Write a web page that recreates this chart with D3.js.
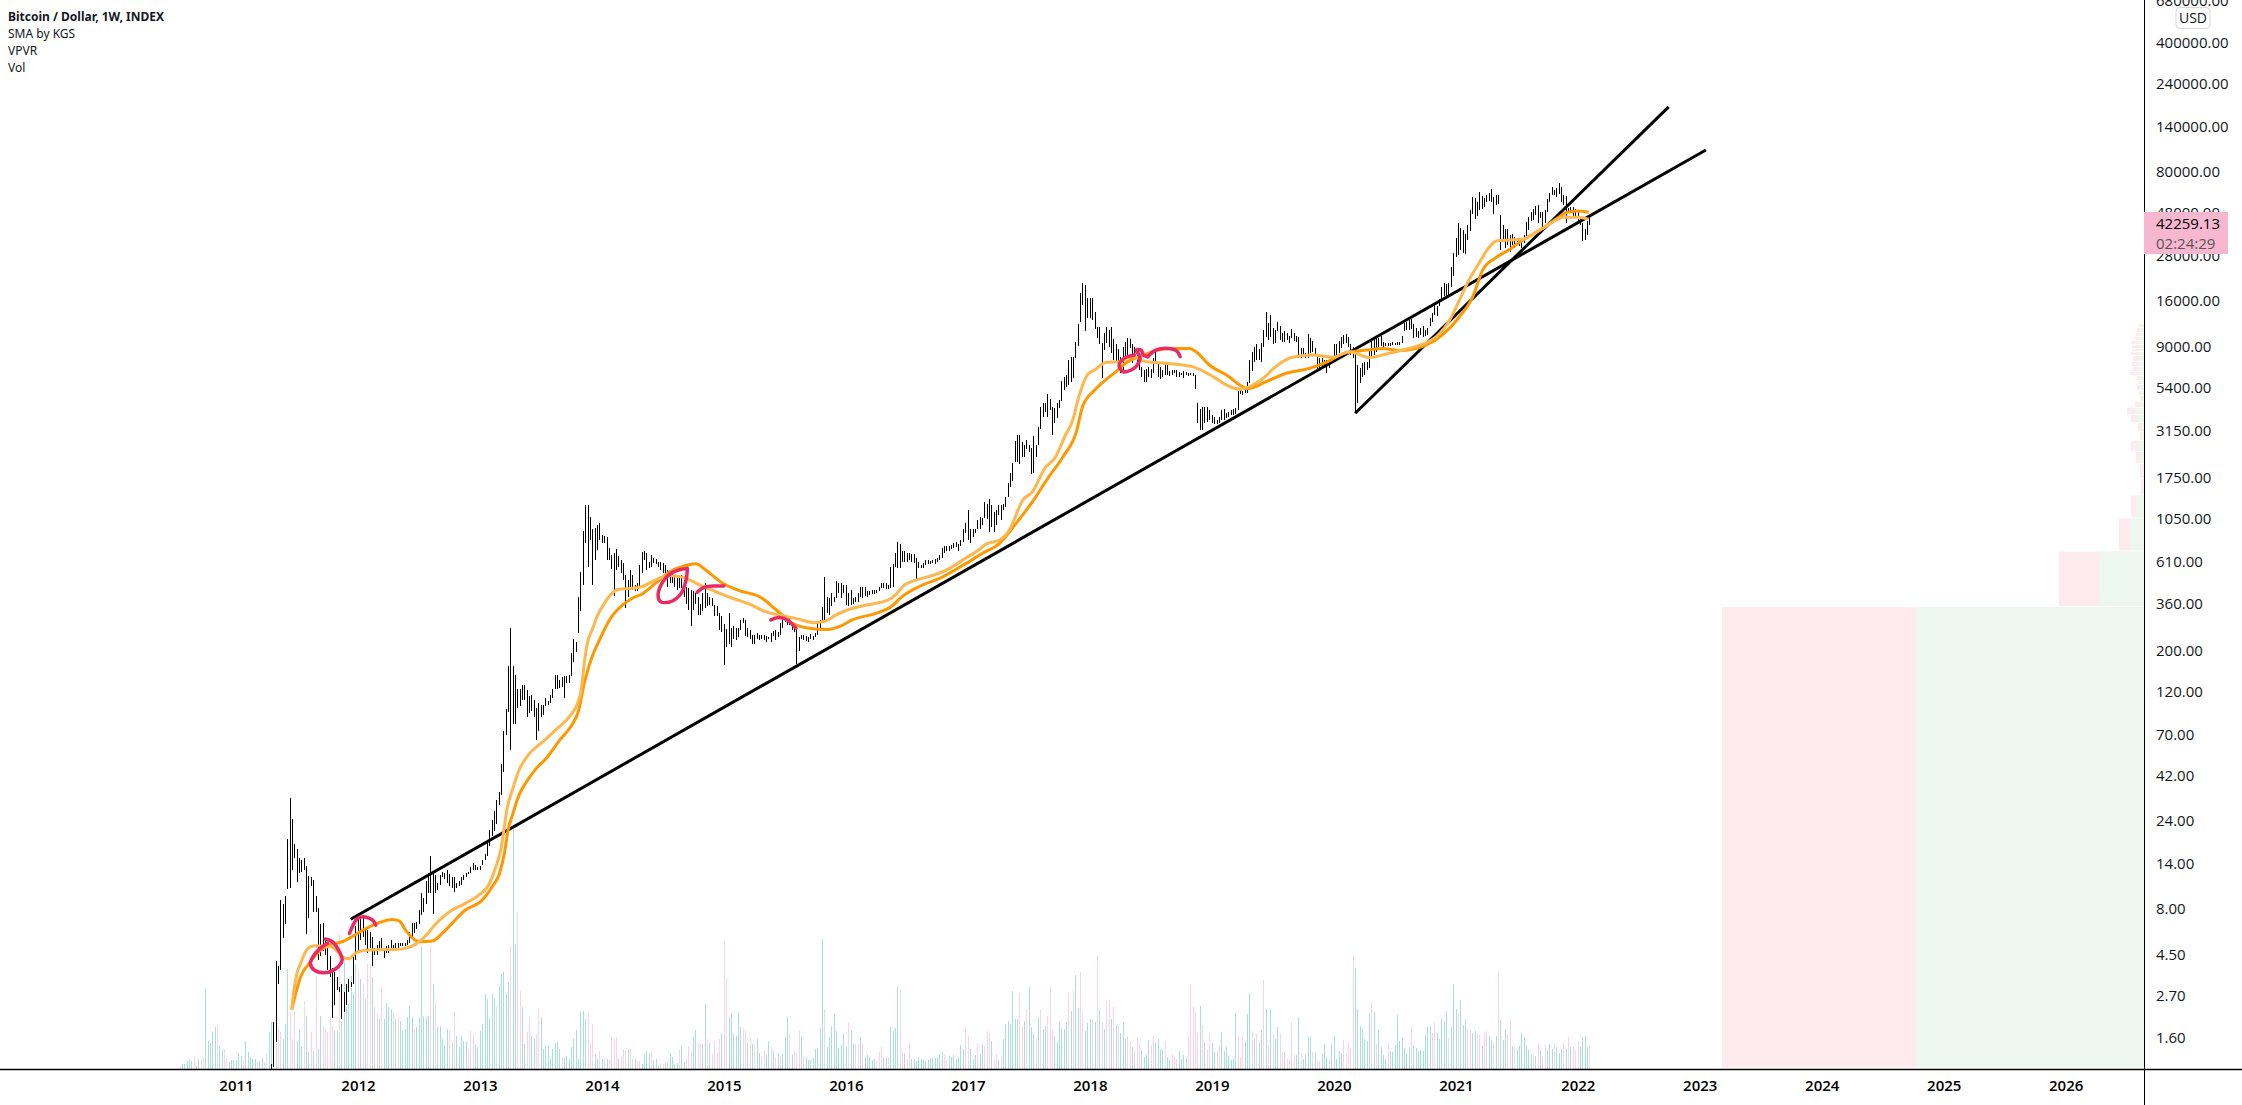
<!doctype html>
<html>
<head>
<meta charset="utf-8">
<title>Bitcoin / Dollar, 1W</title>
<script src="https://d3js.org/d3.v7.min.js"></script>
<style>
  body { margin: 0; background: #fff; }
  svg { display: block; }
  text { font-family: 'Open Sans', sans-serif; fill: #131722; }
  .price-axis text { font-size: 15px; }
  .time-axis text { font-size: 15px; font-weight: 600; fill: #000; }
  .legend { font-family: 'Noto Sans', sans-serif; font-size: 12px; }
</style>
</head>
<body>
<script>
// ---- axis labels
var yearTicks = [2011,2012,2013,2014,2015,2016,2017,2018,2019,2020,2021,2022,2023,2024,2025,2026];
var priceTicks = [680000,400000,240000,140000,80000,48000,28000,16000,9000,5400,3150,1750,1050,610,360,200,120,70,42,24,14,8,4.5,2.7,1.6];
var legendLines = ["Bitcoin / Dollar, 1W, INDEX","SMA by KGS","VPVR","Vol"];

// ---- weekly [low, high], one list per calendar year
var bars2011 = [ // starts mid April
[1.08,1.14],[1.1,1.94],[1.51,4.15],[3.1,3.9],[3.7,8.9],[5.5,8.5],[6.6,9.4],[10.2,19],[10.3,31.7],[13,24.5],
[15,17.9],[11.1,16.9],[12.4,15.1],[12.7,14.7],[12.9,15],[5.8,13.6],[7.1,12],[10.6,11.9],[7.7,11.4],[7.7,9.3],
[4.2,8.1],[4.4,6.6],[4.7,6.7],[4.5,5.4],[3.7,5.1],[3.4,4.4],[2.04,3.8],[2.4,3.6],[2.9,3.4],[2.8,3],
[2,3.1],[2.2,2.8],[2.4,3.1],[2.8,3.3],[3,3.2],[3.1,4.5],[4.2,6.4]];
var bars2012 = [
[4.6,7.4],[5.4,7.2],[5.6,7.4],[5.1,6.2],[4.6,6.1],[4.9,6],[3.9,5.6],[4.5,4.9],[4.5,5.1],[4.8,5.3],
[4.9,5.5],[4.3,4.9],[4.6,5],[4.6,5.1],[4.8,5.4],[4.8,5.1],[4.7,5.2],[4.9,5.2],[5,5.2],[5,5.2],
[5,5.2],[5.1,5.4],[5.2,6],[5.5,6.7],[5.9,6.7],[6.2,6.8],[6.6,7.9],[7.4,9.7],[7.7,9.1],[8.5,11.3],
[9.7,12.4],[9.7,15.4],[7.5,12.4],[9.7,12.2],[10.1,11],[10.7,12.2],[11.9,12.7],[11.5,12.5],[11,13],[10.6,12.3],
[10.3,11.9],[9.8,11.9],[10.4,11],[10.6,11.3],[10.8,11.9],[11.4,12.2],[11.9,12.4],[12.3,12.6],[12.5,13.4],[13,14.2],
[12.9,13.7],[13,13.5]];
var bars2013 = [
[13,13.6],[13.7,14.7],[14.7,15.9],[15.4,18.8],[17.5,21.3],[19.7,24.2],[21,27],[23,31],[29,34.5],[33,49],
[44,74],[70,97],[93,165],[58,266],[80,165],[80,149],[98,125],[101,125],[109,131],[109,131],
[88,123],[92,114],[94,116],[88,109],[66,98],[74,104],[88,102],[90,102],[100,111],[102,107],
[105,116],[111,124],[124,149],[124,149],[126,139],[128,145],[111,147],[134,147],[134,149],[146,194],
[175,232],[198,225],[250,395],[328,540],[458,902],[770,1241],[575,1241],[802,1074],[458,925],[625,935],
[707,968],[802,990]];
var bars2014 = [
[770,854],[770,840],[625,830],[625,722],[560,665],[398,679],[551,712],[575,655],[529,625],[487,600],
[342,517],[395,487],[439,551],[430,517],[421,458],[421,467],[439,587],[529,687],[625,695],[551,679],
[565,612],[575,665],[600,637],[596,631],[575,612],[551,605],[529,600],[487,587],[448,551],[467,529],
[467,540],[445,520],[430,500],[440,510],[439,517],[395,487],[361,448],[335,439],[274,430],[335,421],
[361,412],[314,395],[314,361],[328,412],[342,471],[349,412],[355,395],[349,387],[308,355],[308,349],
[260,321],[255,308]];
var bars2015 = [
[168,280],[211,263],[218,321],[211,266],[232,274],[230,266],[237,266],[260,295],[284,303],[240,295],
[237,266],[232,260],[218,245],[218,245],[232,250],[230,245],[232,245],[230,245],[225,240],[232,237],
[225,250],[240,258],[230,260],[237,255],[245,284],[266,314],[288,314],[278,308],[278,303],[260,289],
[255,274],[170,266],[200,237],[232,245],[230,245],[228,240],[225,238],[232,246],[230,240],[238,250],
[245,284],[260,295],[284,345],[288,507],[321,395],[314,387],[349,412],[370,395],[387,477],[412,471],
[387,467],[412,458]];
var bars2016 = [
[355,458],[349,412],[355,430],[361,387],[370,395],[370,412],[395,448],[387,445],[398,445],[395,425],
[403,425],[408,430],[408,430],[412,430],[421,448],[439,471],[439,467],[435,467],[435,458],[439,575],
[448,596],[575,683],[565,785],[565,765],[612,700],[612,695],[612,679],[625,679],[610,675],[600,670],
[477,637],[565,605],[565,587],[565,600],[587,625],[596,625],[596,620],[600,625],[590,630],[612,637],
[625,665],[637,722],[683,740],[695,745],[700,745],[712,755],[722,775],[735,785],[700,760],[745,800],
[785,915],[880,990]];
var bars2017 = [
[802,1168],[770,925],[830,925],[880,925],[925,1030],[925,1074],[968,1050],[1050,1290],[1040,1250],[885,1340],
[948,1241],[885,1142],[968,1168],[1100,1240],[1030,1240],[1166,1253],[1216,1377],[1377,1629],[1563,1845],[1683,2090],
[2132,2760],[2132,2978],[2075,2978],[2270,2740],[2270,2630],[2500,2800],[2417,2630],[1820,2522],[1845,2940],[2270,2630],
[2630,3304],[3195,4250],[3743,4467],[3990,4467],[3743,4955],[4075,4655],[2978,4250],[3445,4160],[3664,4425],[4160,4613],
[4571,5875],[5226,6180],[5405,6310],[5560,7600],[5800,7925],[6050,7925],[7760,9570],[9090,11940],[12280,17500],[15150,19800],
[10960,19300],[12790,16440]];
var bars2018 = [
[12790,16440],[12500,16440],[11180,13900],[9980,11550],[9300,11550],[6050,9370],[8650,10600],[9370,11500],[8950,11100],[8270,11500],
[7600,9850],[7450,9300],[6620,8700],[6440,7925],[6620,8950],[7600,9570],[8130,9980],[8800,9850],[7300,9300],[7760,8950],
[7300,8270],[6710,7600],[6180,6950],[5800,6700],[5800,6800],[6180,6950],[6050,6800],[6440,7760],[7450,8400],[6180,7400],
[6000,6950],[6180,6700],[6310,7300],[6310,7400],[6240,6620],[6310,6700],[6440,6700],[6180,6700],[6130,6570],[6310,6440],
[6100,6650],[6280,6520],[6200,6500],[6310,6500],[6250,6450],[5270,6340],[3445,4425],[3170,4105],[3150,4250],[3445,4220],
[3515,4200],[3600,4090]];
var bars2019 = [
[3445,3820],[3400,3743],[3420,3590],[3445,3743],[3590,4075],[3590,4105],[3664,3940],[3743,3990],[3820,4075],[3820,4105],
[3850,4150],[4075,5160],[4950,5200],[4900,5160],[5010,5400],[5010,5800],[5680,7600],[6620,8400],[7450,8950],[7600,9300],
[7600,8700],[7400,9400],[9000,11100],[10200,13900],[9770,12030],[10200,13300],[9300,11300],[9370,11100],[10950,12300],[9770,11700],
[9570,10700],[9470,10950],[9770,10650],[9370,10300],[10000,11200],[9700,10600],[9500,10300],[7760,10200],[7760,8850],[7850,8850],
[7760,8350],[7760,10500],[8270,9980],[8400,9700],[8130,8850],[6800,8180],[6750,7760],[6900,7760],[6840,7600],[6480,7600],
[6900,7600],[7300,7760]];
var bars2020 = [
[7600,9300],[8130,9300],[8270,9630],[8850,10200],[9300,10400],[9370,10500],[8900,10200],[8130,9300],[7800,9000],[3950,8180],
[4425,7100],[5730,6900],[6180,7300],[6310,7450],[6710,7450],[6900,8700],[7930,9770],[8130,10200],[8400,10200],[8900,10050],
[9100,10300],[8950,9500],[9050,9350],[9100,9400],[9100,9450],[9200,9500],[9150,9450],[9150,9570],[9150,9570],[9370,10300],
[10950,12030],[11100,12280],[11100,12500],[11200,12700],[9980,11940],[10150,11300],[9980,10950],[10450,11300],[10200,11600],[10300,11000],
[10450,11400],[11600,12790],[12280,13600],[13400,15150],[13100,15000],[14900,16300],[15800,18900],[16900,19800],[16300,19600],[17100,19800],
[19000,24200],[21600,28800]];
var bars2021 = [
[27700,34800],[28300,42000],[30100,39800],[29000,38600],[28700,36700],[34100,41100],[38300,49300],[47200,58000],[44500,57500],[46000,54900],
[49700,61800],[50500,59000],[51800,57500],[54900,59800],[55200,61000],[54900,64800],[47200,58000],[52800,59800],[53700,59800],[30100,46600],
[33500,41100],[30800,39300],[32100,39300],[29500,36300],[32100,36800],[30800,35400],[32100,34800],[31800,34500],[31000,35000],[33000,36200],
[34800,42700],[38600,45700],[43000,48500],[43800,50200],[46600,52000],[42000,52800],[44600,48500],[39400,48500],[42000,49700],[48500,56700],
[54900,61200],[59800,66300],[59800,63800],[58600,65000],[60900,69100],[54900,66300],[52800,59800],[42000,59000],[47500,50600],[47500,51600],
[45900,51600],[46000,50500]];
var bars2022 = [[42500,48600],[41100,44600],[33500,42000],[34100,38900],[36300,43000],[41100,45500]];
var barYears = [[2011,15,bars2011],[2012,0,bars2012],[2013,0,bars2013],[2014,0,bars2014],[2015,0,bars2015],[2016,0,bars2016],
                [2017,0,bars2017],[2018,0,bars2018],[2019,0,bars2019],[2020,0,bars2020],[2021,0,bars2021],[2022,0,bars2022]];

// ---- weekly volume, relative units, negative = down week
var vol2010 = [ // starts July
-1,-2,5,5,8,10,8,-13,3,10,-10,-12,80,28,26,37,42,-44,24,20,-20,-11,7,9,9];
var vol2011 = [
9,16,13,-9,28,17,12,10,10,-7,8,11,-7,-16,37,47,27,38,-43,-37,
30,45,100,-57,-30,-57,28,40,23,-68,53,17,-37,18,-93,20,53,-43,-40,-37,
-52,-43,38,38,-135,47,107,62,65,93,75,105];
var vol2012 = [
-100,90,-85,70,-105,-105,92,-62,-55,50,-82,50,66,62,60,-55,50,-52,48,38,
40,52,63,52,-40,42,52,123,53,52,53,-123,85,-67,42,43,30,24,40,-39,
26,-57,33,22,33,28,28,-20,-38,-35,25,22];
var vol2013 = [
38,45,75,70,52,75,70,-62,83,95,97,75,87,-123,240,125,-157,-78,62,25,
-37,-53,33,30,-35,-61,52,20,24,24,10,20,26,27,20,-12,11,13,10,22,
30,39,10,57,58,50,-56,-25,-45,15,10,-18];
var vol2014 = [
10,-10,10,-9,-32,-30,-32,10,-13,-20,-19,20,-20,-10,10,-8,-8,5,15,18,
15,-18,9,10,-4,-5,-5,6,-8,16,12,5,6,-20,23,7,-10,-23,-18,32,
39,-26,-25,25,65,-30,26,-15,-28,-17,-30,36];
var vol2015 = [
-128,-91,52,56,36,33,56,42,-41,-38,26,-31,25,-25,30,16,-12,-19,14,28,
-22,18,-11,16,-13,15,32,52,-35,14,-18,-16,-39,32,-13,12,9,9,11,20,
21,41,130,-60,22,32,43,55,38,21,24,36];
var vol2016 = [
23,-47,39,25,-25,-25,32,-25,12,14,12,9,10,-8,-17,-22,12,11,-12,42,
38,41,82,-80,-18,16,-10,-27,10,10,8,12,10,9,8,9,11,11,11,12,
15,17,-15,-9,13,12,14,10,12,24,20,-42];
var vol2017 = [
-33,20,10,14,-26,15,25,-23,-38,-36,28,-10,-15,9,-12,30,45,48,45,78,
50,50,-76,-43,48,-60,82,42,35,-30,52,-60,40,43,-53,-83,-40,33,27,47,
41,40,47,-76,58,-78,94,61,-97,-55,38,46];
var vol2018 = [
50,-49,47,-113,59,-47,40,-68,-69,50,-62,44,-43,36,47,30,-33,-28,22,-19,
-31,-26,19,12,14,29,-24,-33,26,30,20,19,-28,12,9,-15,-12,-10,18,10,
14,11,-34,-85,-62,-57,-36,63,-44,27,-20,-36];
var vol2019 = [
26,17,-19,-24,37,18,22,13,9,10,56,-33,-12,-34,27,55,76,-38,30,-35,
26,39,-89,60,-24,60,-35,30,42,-35,-17,17,-10,-10,-47,-15,14,52,-16,10,
14,32,33,-17,17,-8,-8,15,25,12,-10,25];
var vol2020 = [
33,10,18,16,-29,-16,-27,-21,-114,101,60,43,40,30,28,56,-67,57,-25,39,
22,14,10,-25,18,17,24,54,28,31,21,16,22,-43,24,21,18,19,18,34,
42,43,-36,-47,36,30,50,48,58,-32,42,85];
var vol2021 = [
60,-55,69,44,50,-40,-39,36,38,-35,-34,23,-36,-38,33,29,-27,33,-96,49,
29,40,-35,-49,23,-22,19,23,36,32,23,19,15,-13,13,-26,19,-13,-24,19,
25,20,-25,22,16,20,-27,20,-32,22,-23,-18];
var vol2022 = [-28,22,32,33,22,-24];
var volYears = [[2010,27,vol2010],[2011,0,vol2011],[2012,0,vol2012],[2013,0,vol2013],[2014,0,vol2014],[2015,0,vol2015],[2016,0,vol2016],
                [2017,0,vol2017],[2018,0,vol2018],[2019,0,vol2019],[2020,0,vol2020],[2021,0,vol2021],[2022,0,vol2022]];

// ---- moving averages: [decimal year, price]
var fastMa = [[2011.456,2.26],[2011.475,2.88],[2011.50,3.56],[2011.53,4.03],[2011.57,4.66],[2011.63,5],[2011.68,5.02],[2011.73,4.96],[2011.78,4.96],[2011.82,4.76],
[2011.87,4.38],[2011.93,4.27],[2011.97,4.53],[2012.02,4.7],[2012.09,4.76],[2012.20,4.8],[2012.31,4.8],[2012.39,4.86],[2012.47,5.11],[2012.56,5.74],
[2012.64,6.64],[2012.75,7.69],[2012.88,8.53],[2012.99,9.47],[2013.07,10.7],[2013.13,13.5],[2013.17,16.6],[2013.20,22.2],[2013.22,27.4],[2013.27,35.9],
[2013.32,45.2],[2013.375,52.2],[2013.54,66.5],[2013.62,74.7],[2013.745,90],[2013.80,104],[2013.83,123],[2013.855,172],[2013.88,220],[2013.92,261],
[2013.96,308],[2014.02,363],[2014.07,403],[2014.14,433],[2014.25,438],[2014.33,448],[2014.44,487],[2014.55,514],[2014.66,504],[2014.80,457],
[2014.93,421],[2015.07,387],[2015.21,359],[2015.34,327],[2015.48,311],[2015.62,297],[2015.74,285],[2015.82,289],[2015.92,314],[2016.00,332],
[2016.14,352],[2016.36,382],[2016.41,406],[2016.48,457],[2016.56,482],[2016.71,514],[2016.85,562],[2016.98,638],[2017.09,708],[2017.15,763],
[2017.26,802],[2017.34,908],[2017.45,1321],[2017.53,1466],[2017.63,1963],[2017.72,2270],[2017.80,2978],[2017.86,3589],[2017.91,4808],[2017.98,6310],
[2018.04,6714],[2018.13,7362],[2018.24,7450],[2018.35,7925],[2018.46,7450],[2018.625,7295],[2018.84,7000],[2019.01,6180],[2019.12,5560],[2019.23,5270],
[2019.31,5450],[2019.42,6050],[2019.53,7060],[2019.66,7870],[2019.83,8100],[2019.99,7870],[2020.13,8430],[2020.29,7840],[2020.43,8200],[2020.59,8690],
[2020.76,9440],[2020.84,10180],[2020.95,12530],[2021.03,16100],[2021.10,20200],[2021.19,25500],[2021.26,30300],[2021.33,33700],[2021.44,34100],[2021.55,34400],
[2021.69,38600],[2021.78,42000],[2021.88,45300],[2021.99,45300],[2022.09,44200]];
var slowMa = [[2011.456,2.26],[2011.49,2.77],[2011.53,3.41],[2011.60,4.03],[2011.68,4.66],[2011.76,5.07],[2011.87,5.28],[2011.95,5.62],[2012.04,6.11],[2012.145,6.59],
[2012.28,6.98],[2012.34,6.84],[2012.39,6.11],[2012.45,5.51],[2012.51,5.28],[2012.61,5.33],[2012.69,5.86],[2012.77,6.64],[2012.88,7.85],[2013.02,8.89],
[2013.10,10.5],[2013.16,12.4],[2013.20,15.9],[2013.23,21.3],[2013.27,26.2],[2013.32,33],[2013.39,39.8],[2013.46,46],[2013.54,52],[2013.66,66.5],
[2013.745,77.8],[2013.81,95.7],[2013.855,134],[2013.91,179],[2013.98,230],[2014.07,301],[2014.17,356],[2014.25,387],[2014.33,408],[2014.44,467],
[2014.55,535],[2014.66,575],[2014.77,595],[2014.85,551],[2014.99,467],[2015.125,426],[2015.30,392],[2015.43,334],[2015.56,283],[2015.70,266],
[2015.85,262],[2015.95,272],[2016.05,295],[2016.25,321],[2016.37,348],[2016.46,395],[2016.60,448],[2016.79,504],[2016.98,595],[2017.12,679],
[2017.26,769],[2017.395,986],[2017.53,1294],[2017.655,1733],[2017.78,2270],[2017.89,3105],[2017.94,4246],[2018.04,5224],[2018.13,5930],[2018.215,6580],
[2018.31,7450],[2018.41,7925],[2018.54,8550],[2018.68,8790],[2018.82,8790],[2018.87,8430],[2018.98,7140],[2019.12,6310],[2019.295,5330],[2019.445,5800],
[2019.61,6440],[2019.80,6850],[2019.95,7450],[2020.10,8340],[2020.27,8610],[2020.40,8790],[2020.54,8550],[2020.76,9180],[2020.89,10400],[2021.03,13060],
[2021.14,16800],[2021.22,23400],[2021.32,27100],[2021.44,30300],[2021.55,34100],[2021.69,38600],[2021.82,44200],[2021.905,48000],[2021.99,49000],[2022.09,48200]];

// ---- hand drawn lines on the chart: [decimal year, price]
var trendLines = [
  [[2011.94,7],[2023.05,105000]],
  [[2020.175,3910],[2022.745,180000]]
];
var scribbles = [
  [[2011.73,5.46],[2011.79,5.28],[2011.84,4.76],[2011.87,4.2],[2011.82,3.78],[2011.72,3.58],[2011.64,3.71],[2011.61,4.03],[2011.64,4.47],[2011.69,4.86],[2011.75,5.18]],
  [[2011.93,5.86],[2011.96,6.5],[2011.995,7.06],[2012.06,7.2],[2012.12,6.92],[2012.145,6.5]],
  [[2014.70,562],[2014.69,487],[2014.65,412],[2014.565,371],[2014.48,371],[2014.46,403],[2014.50,476],[2014.565,529],[2014.63,551],[2014.70,562]],
  [[2014.78,417],[2014.84,444],[2014.93,451],[2015.0,451]],
  [[2015.385,295],[2015.45,304],[2015.52,295],[2015.59,266]],
  [[2018.365,8090],[2018.28,7760],[2018.24,7140],[2018.27,6580],[2018.34,6710],[2018.39,7140],[2018.41,7925],[2018.38,8610],[2018.42,8610],[2018.44,8090],[2018.475,7925]],
  [[2018.475,7925],[2018.54,8610],[2018.65,8790],[2018.71,8550],[2018.74,7925]]
];

// ---- volume profile rows, bottom to top
var vpEdges = [1.08,347,695,1050,1400,1718,2070,2410,2762,3090,3460,3820,4170,4500,4850,5160,5560,5850,6220,6550,6970,7420,8000,8410,8730,9180,9640,10140,10660,11350,11940];
var vpUp = [228,44,14,8,1,1,4,6,2,2,7,9,5,2,3,4,3,4,7,6,6,5,6,5,5,6,5,4,3,2];
var vpDown = [194,41,11,5,2,3,4,7,2,4,6,8,4,2,2,3,3,3,7,6,6,6,8,7,7,7,4,4,4,3];

var lastPrice = "42259.13";
var countdown = "02:24:29";

var width = 2242;
var height = 1105;
var plotRight = 2144;
var plotBottom = 1069;

var x = d3.scaleLinear().domain([2009.065, 2026.642]).range([0, plotRight]);
var y = d3.scaleLog().domain([1.076, 684700]).range([plotBottom, 0]);
var volY = d3.scaleLinear().domain([0, 240]).range([plotBottom, plotBottom - 240]);
var vpW = d3.scaleLinear().domain([0, 228]).range([0, 228]);

var weeksPerYear = 52.18;

function flatten(list) {
  var out = [];
  list.forEach(function(row) {
    row[2].forEach(function(v, i) {
      out.push({ t: row[0] + (row[1] + i) / weeksPerYear, v: v });
    });
  });
  return out;
}
var priceBars = flatten(barYears);
var volumes = flatten(volYears);

var svg = d3.select("body").append("svg")
  .attr("width", width)
  .attr("height", height);

// volume profile
var vp = svg.append("g").attr("class", "vpvr");
var rows = vpUp.map(function(u, i) {
  return { up: u, down: vpDown[i], lo: vpEdges[i], hi: vpEdges[i + 1] };
});
vp.selectAll("rect.up").data(rows).enter().append("rect")
  .attr("class", "up")
  .attr("x", function(d) { return plotRight - vpW(d.up); })
  .attr("y", function(d) { return y(d.hi); })
  .attr("width", function(d) { return vpW(d.up); })
  .attr("height", function(d) { return Math.max(1, y(d.lo) - y(d.hi) - 1); })
  .attr("fill", "#edf7ef");
vp.selectAll("rect.down").data(rows).enter().append("rect")
  .attr("class", "down")
  .attr("x", function(d) { return plotRight - vpW(d.up) - vpW(d.down); })
  .attr("y", function(d) { return y(d.hi); })
  .attr("width", function(d) { return vpW(d.down); })
  .attr("height", function(d) { return Math.max(1, y(d.lo) - y(d.hi) - 1); })
  .attr("fill", "#fdebf0");

// volume
svg.append("g").selectAll("rect").data(volumes).enter().append("rect")
  .attr("x", function(d) { return Math.round(x(d.t)); })
  .attr("y", function(d) { return volY(Math.abs(d.v)); })
  .attr("width", 1)
  .attr("height", function(d) { return plotBottom - volY(Math.abs(d.v)); })
  .attr("fill", function(d) { return d.v < 0 ? "#fcd3e1" : "#a8e2d4"; });

// weekly bars
svg.append("g").selectAll("rect").data(priceBars).enter().append("rect")
  .attr("x", function(d) { return Math.round(x(d.t)); })
  .attr("y", function(d) { return y(d.v[1]); })
  .attr("width", 1)
  .attr("height", function(d) { return y(d.v[0]) - y(d.v[1]); })
  .attr("fill", "#000")
  .attr("shape-rendering", "crispEdges");

var line = d3.line()
  .x(function(d) { return x(d[0]); })
  .y(function(d) { return y(d[1]); });

// trend lines
svg.append("g").selectAll("path").data(trendLines).enter().append("path")
  .attr("d", line)
  .attr("fill", "none")
  .attr("stroke", "#000")
  .attr("stroke-width", 3);

// moving averages
var maLine = d3.line()
  .x(function(d) { return x(d[0]); })
  .y(function(d) { return y(d[1]); })
  .curve(d3.curveMonotoneX);
svg.append("path").attr("d", maLine(slowMa))
  .attr("fill", "none").attr("stroke", "#ff9800").attr("stroke-width", 3);
svg.append("path").attr("d", maLine(fastMa))
  .attr("fill", "none").attr("stroke", "#ffb74d").attr("stroke-width", 3);

// pink pen marks
var penLine = d3.line()
  .x(function(d) { return x(d[0]); })
  .y(function(d) { return y(d[1]); })
  .curve(d3.curveCatmullRom);
svg.append("g").selectAll("path").data(scribbles).enter().append("path")
  .attr("d", penLine)
  .attr("fill", "none")
  .attr("stroke", "#e92a65")
  .attr("stroke-width", 3.5)
  .attr("stroke-linecap", "round");

// axes
var timeAxis = d3.axisBottom(x).tickValues(yearTicks).tickFormat(d3.format("d")).tickSize(0).tickPadding(11);
var tg = svg.append("g").attr("class", "time-axis")
  .attr("transform", "translate(0," + plotBottom + ")")
  .call(timeAxis);
tg.select(".domain").remove();

var priceAxis = d3.axisRight(y).tickValues(priceTicks).tickFormat(d3.format(".2f")).tickSize(0).tickPadding(12);
var pg = svg.append("g").attr("class", "price-axis")
  .attr("transform", "translate(" + plotRight + ",0)")
  .call(priceAxis);
pg.select(".domain").remove();

svg.append("line").attr("x1", 0).attr("x2", width).attr("y1", plotBottom + 0.5).attr("y2", plotBottom + 0.5)
  .attr("stroke", "#000").attr("stroke-width", 1.5);
svg.append("line").attr("x1", plotRight + 0.5).attr("x2", plotRight + 0.5).attr("y1", 0).attr("y2", height)
  .attr("stroke", "#000").attr("stroke-width", 1);

// last price tag
svg.append("rect").attr("x", plotRight).attr("y", 212).attr("width", 84).attr("height", 42).attr("fill", "#f7b7cf");
svg.append("text").attr("x", 2156).attr("y", 229).attr("font-size", 15).style("fill", "#000").text(lastPrice);
svg.append("text").attr("x", 2156).attr("y", 249).attr("font-size", 15).style("fill", "#555").text(countdown);

// currency pill
svg.append("rect").attr("x", 2176).attr("y", 7.5).attr("width", 34).attr("height", 21).attr("rx", 4)
  .attr("fill", "#fff").attr("stroke", "#d6d8de");
svg.append("text").attr("x", 2193).attr("y", 23).attr("text-anchor", "middle").attr("font-size", 14).text("USD");

// legend
svg.append("g").selectAll("text").data(legendLines).enter().append("text")
  .attr("class", "legend")
  .attr("x", 8)
  .attr("y", function(d, i) { return 21 + i * 17; })
  .style("font-weight", function(d, i) { return i == 0 ? "bold" : "normal"; })
  .text(function(d) { return d; });
</script>
</body>
</html>
